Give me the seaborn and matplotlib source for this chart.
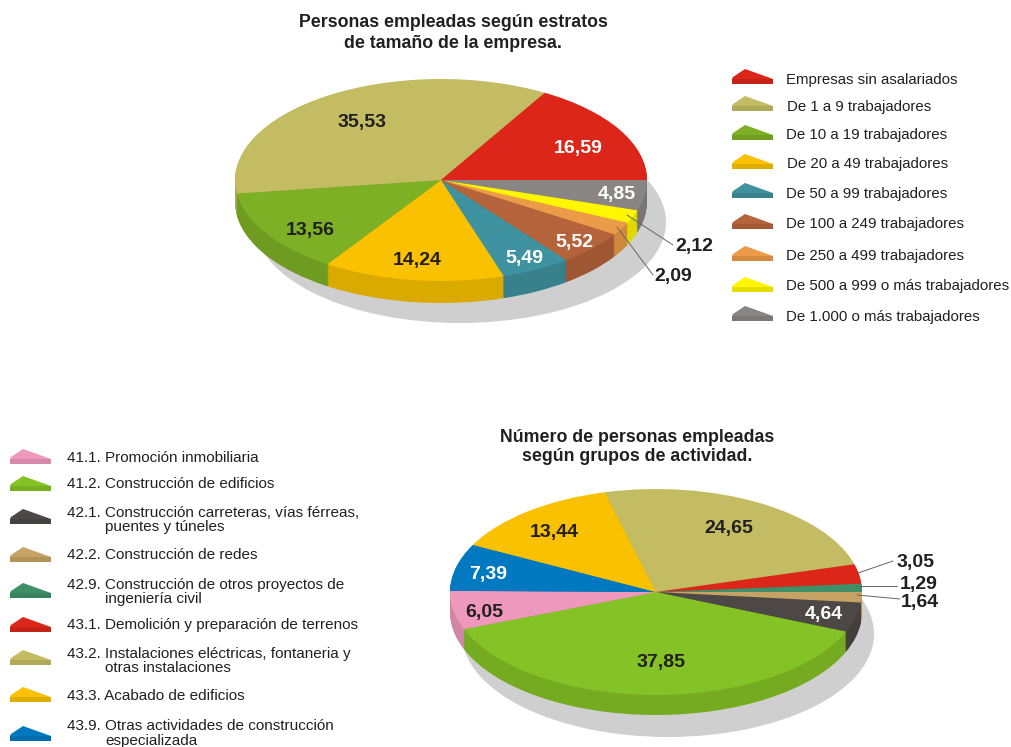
import numpy as np
import seaborn as sns
import matplotlib
matplotlib.use("Agg")
import matplotlib.pyplot as plt
from matplotlib.colors import to_rgb
from matplotlib.patches import Polygon

# ---------------- DATA ---------------- #

size_labels = ["Empresas sin asalariados", "De 1 a 9 trabajadores", "De 10 a 19 trabajadores",
               "De 20 a 49 trabajadores", "De 50 a 99 trabajadores", "De 100 a 249 trabajadores",
               "De 250 a 499 trabajadores", "De 500 a 999 o más trabajadores", "De 1.000 o más trabajadores"]
size_colors = ["#DC2619", "#C4BC63", "#7DB024", "#F9C100", "#3F929F",
               "#B5633A", "#EC9B48", "#FFF600", "#888582"]
# clockwise from 3 o'clock
size_order = [8, 7, 6, 5, 4, 3, 2, 1, 0]
size_values = [4.85, 2.12, 2.09, 5.52, 5.49, 14.24, 13.56, 35.53, 16.59]

act_labels = ["41.1. Promoción inmobiliaria", "41.2. Construcción de edificios",
              "42.1. Construcción carreteras, vías férreas,\npuentes y túneles",
              "42.2. Construcción de redes",
              "42.9. Construcción de otros proyectos de\ningeniería civil",
              "43.1. Demolición y preparación de terrenos",
              "43.2. Instalaciones eléctricas, fontaneria y\notras instalaciones",
              "43.3. Acabado de edificios",
              "43.9. Otras actividades de construcción\nespecializada"]
act_colors = ["#EE98BC", "#84C225", "#4D4845", "#C6A364", "#3F8F69",
              "#DC2619", "#C4BC63", "#F9C100", "#0079C1"]
act_order = [3, 2, 1, 0, 8, 7, 6, 5, 4]
act_values = [1.64, 4.64, 37.85, 6.05, 7.39, 13.44, 24.65, 3.05, 1.29]

# ---------------- LAYOUT (pixels) ---------------- #

W, H = 1011, 747
DARK = "#231F20"

size_text_xy = [(617, 194), (694, 247), (673, 277), (574, 242), (524, 258),
                (417, 261), (310, 230), (362, 123), (578, 149)]
size_text_white = [True, False, False, True, True, False, False, False, True]
size_leaders = [((627, 215), (673, 245)), ((617, 227), (653, 275))]
size_legend_y = [69, 96, 125, 154, 183, 214, 246, 277, 306]
size_legend_text_y = [80, 107, 135, 164, 194, 224, 256, 286, 317]
size_legend_text_x = [786, 787, 786, 787, 786, 786, 786, 786, 786]

act_text_xy = [(920, 603), (824, 614), (661, 663), (484, 612), (488, 574),
               (554, 532), (729, 529), (916, 562), (919, 585)]
act_text_white = [False, True, False, False, True, False, False, False, False]
act_leaders = [((858, 573), (893, 561)), ((855, 586), (897, 586)), ((857, 595), (900, 599))]
act_legend_y = [449, 476, 509, 547, 583, 617, 650, 687, 726]
act_legend_text_y = [458, 484, 513, 555, 585, 625, 654, 696, 726]

# ---------------- FUNCTIONS ---------------- #


def darker(color, k=0.88):
    return tuple(np.array(to_rgb(color)) * k)


def pie_3d(fig, cx, cy, rx, ry, depth, shadow, values, colors):
    # axes box is the ellipse's bounding box, so the pie gets squashed
    ax = fig.add_axes([(cx - rx) / W, 1 - (cy + ry) / H, 2 * rx / W, 2 * ry / H])
    ax.pie([1], colors=["#CFCFCF"], radius=1,
           center=(shadow[0] / rx, -shadow[1] / ry), wedgeprops={"linewidth": 0})
    side = [darker(c) for c in colors]
    for d in range(depth, 0, -1):
        ax.pie(values, colors=side, startangle=0, counterclock=False, radius=1,
               center=(0, -d / ry), wedgeprops={"linewidth": 0.6, "edgecolor": "none"})
    ax.pie(values, colors=colors, startangle=0, counterclock=False, radius=1,
           wedgeprops={"linewidth": 0})
    ax.set_aspect("auto")
    ax.set_xlim(-1, 1)
    ax.set_ylim(-1, 1)
    return ax


def swatch(ax, x, y, color):
    # small wedge with a thickness, as in the original legend keys
    top = [(x, y + 10), (x + 1, y + 8), (x + 13, y), (x + 41, y + 10)]
    low = [(x, y + 10), (x + 41, y + 10), (x + 41, y + 15), (x, y + 15)]
    ax.add_patch(Polygon(low, closed=True, fc=darker(color, 0.9), ec="none"))
    ax.add_patch(Polygon(top, closed=True, fc=color, ec="none"))


def value_labels(ax, values, xy, white):
    for v, (x, y), w in zip(values, xy, white):
        ax.text(x, y, f"{v:.2f}".replace(".", ","), ha="center", va="center",
                fontsize=14, fontweight="bold", color="white" if w else DARK)


def leaders(ax, segments):
    for (a, b) in segments:
        ax.plot([a[0], b[0]], [a[1], b[1]], color="#666666", lw=0.7)


# ---------------- PLOT ---------------- #

sns.set_theme(style="white")
plt.rcParams["font.family"] = ["Liberation Sans", "DejaVu Sans"]

fig = plt.figure(figsize=(W / 100, H / 100), dpi=100, facecolor="white")

pie_3d(fig, 441, 180, 206, 101, 22, (19, 42), size_values,
       [size_colors[i] for i in size_order])
pie_3d(fig, 656, 592, 206, 103, 20, (12, 42), act_values,
       [act_colors[i] for i in act_order])

# overlay in pixel coordinates for the text and legend keys
ov = fig.add_axes([0, 0, 1, 1], zorder=10)
ov.set_xlim(0, W)
ov.set_ylim(H, 0)
ov.axis("off")
ov.patch.set_alpha(0)

leaders(ov, size_leaders)
leaders(ov, act_leaders)
value_labels(ov, size_values, size_text_xy, size_text_white)
value_labels(ov, act_values, act_text_xy, act_text_white)

ov.text(453, 33, "Personas empleadas según estratos\nde tamaño de la empresa.", ha="center", va="center",
        fontsize=12.8, fontweight="bold", color=DARK, linespacing=1.28)
ov.text(637, 447, "Número de personas empleadas\nsegún grupos de actividad.", ha="center", va="center",
        fontsize=12.8, fontweight="bold", color=DARK, linespacing=1.2)

for i, label in enumerate(size_labels):
    swatch(ov, 732, size_legend_y[i], size_colors[i])
    ov.text(size_legend_text_x[i], size_legend_text_y[i], label, va="center",
            fontsize=10.85, color=DARK)

for i, label in enumerate(act_labels):
    swatch(ov, 10, act_legend_y[i], act_colors[i])
    lines = label.split("\n")
    ov.text(67, act_legend_text_y[i], lines[0], va="center", fontsize=10.95, color=DARK)
    if len(lines) > 1:
        ov.text(105, act_legend_text_y[i] + 14.5, lines[1], va="center", fontsize=10.95, color=DARK)

fig.savefig("out.png", dpi=100, facecolor="white")
